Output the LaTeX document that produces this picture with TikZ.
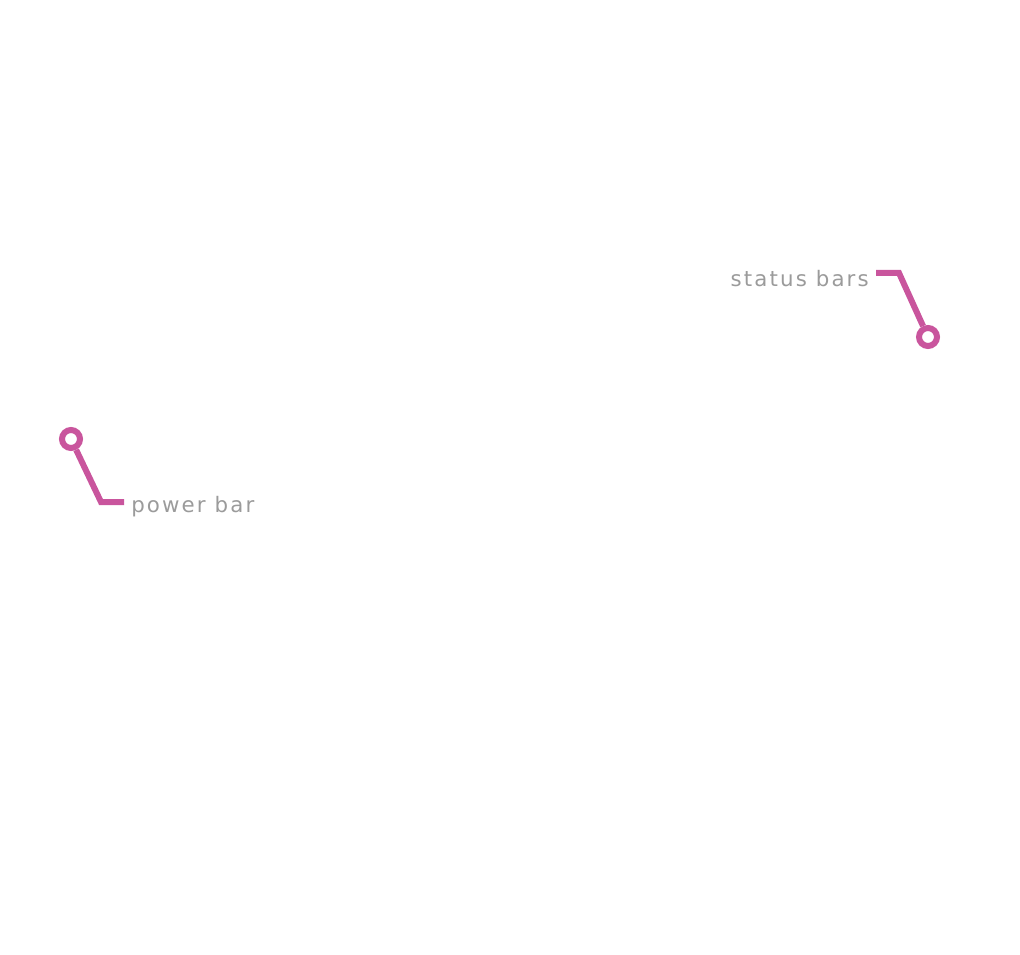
\documentclass[tikz,border=0pt]{standalone}
\usepackage{fontspec}
\newfontfamily\barfont[LetterSpace=10]{DejaVu Sans}
\definecolor{callpink}{HTML}{C9559D}
\definecolor{callgray}{HTML}{9B9B9B}
\tikzset{
	dotB/.style={
		circle, draw=callpink, fill=white, line width=4.5pt,
		inner sep=0pt, minimum size=13.5pt
	},
	tagB/.style={
		inner sep=0pt, text=callgray, font={\barfont\fontsize{16}{18}\selectfont}
	},
	leadB/.style={draw=callpink, line width=4.5pt, line cap=butt, line join=miter},
}
\begin{document}
\begin{tikzpicture}[x=0.75pt, y=-0.75pt]
\useasboundingbox (0,0) rectangle (1020,955);
% status bars
\node [dotB] (statusdot) at (928,337) {};
\coordinate (statusstart) at (876,273);
\coordinate (statusbend) at (899,273);
\node [tagB, anchor=east] (statustag) at (869,279) {status bars};
\path [leadB] (statusstart) -- (statusbend) -- (statusdot);
% power bar
\node [dotB] (powerdot) at (71,439) {};
\coordinate (powerbend) at (101,502);
\coordinate (powerend) at (124,502);
\node [tagB, anchor=west] (powertag) at (131,507) {power bar};
\path [leadB] (powerend) -- (powerbend) -- (powerdot);
\end{tikzpicture}
\end{document}
